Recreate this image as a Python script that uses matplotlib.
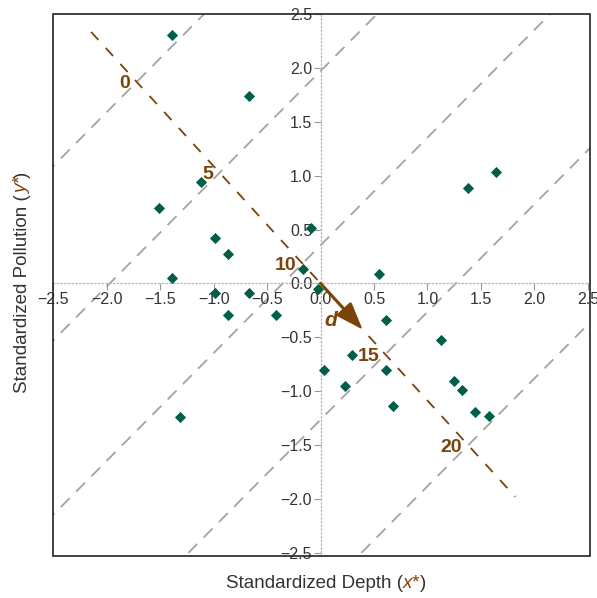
import numpy as np
import matplotlib.pyplot as plt
from matplotlib.patches import Rectangle
from matplotlib.offsetbox import TextArea, HPacker, AnchoredOffsetbox

plt.rcParams['font.family'] = ['Liberation Sans', 'DejaVu Sans']

# standardized observations
depth = [-1.386, -0.672, -1.121, -1.508, -0.990, -0.865, -1.386, -0.990, -0.672,
         -0.865, -0.416, -1.314, -0.092, -0.161, -0.021, 0.550, 1.380, 1.645,
         0.613, 1.127, 0.297, 0.033, 0.613, 0.229, 0.681, 1.252, 1.324, 1.448, 1.576]
pollution = [2.308, 1.739, 0.942, 0.700, 0.419, 0.274, 0.048, -0.091, -0.091,
             -0.292, -0.292, -1.236, 0.512, 0.132, -0.054, 0.088, 0.889, 1.032,
             -0.339, -0.524, -0.663, -0.802, -0.802, -0.951, -1.136, -0.902, -0.994,
             -1.189, -1.229]

# scale along the direction d
score_ticks = [0, 5, 10, 15, 20]
score_origin = -2.54   # position of score 0 along d
score_step = 0.229     # distance along d per score unit
d_angle = -47.4        # degrees
d_extent = (-3.17, 2.69)
arrow_len = 0.58

green = '#005e48'
brown = '#7b4308'
dark = '#333333'

fig = plt.figure(figsize=(5.97, 5.98), dpi=100)
ax = fig.add_axes([52.7 / 597, 1 - 556 / 598, (590 - 52.7) / 597, (556 - 14) / 598])

ax.set_xlim(-2.505, 2.52)
ax.set_ylim(-2.53, 2.5)

ux, uy = np.cos(np.radians(d_angle)), np.sin(np.radians(d_angle))

# gray contour lines through each scale tick (slope 1)
xs = np.array([-3.0, 3.0])
for s in score_ticks:
    t = score_origin + s * score_step
    c = t * uy - t * ux
    ax.plot(xs, xs + c, color='#a3a3a3', lw=1.3, dashes=(7, 5), zorder=1)

# brown dashed direction line
tt = np.array(d_extent)
ax.plot(tt * ux, tt * uy, color=brown, lw=1.3, dashes=(6, 6), zorder=2)

# arrow d
ax.annotate('', xy=(arrow_len * ux, arrow_len * uy), xytext=(0, 0),
            arrowprops=dict(arrowstyle='-|>,head_length=0.9,head_width=0.33',
                            color=brown, lw=2.2, shrinkA=0, shrinkB=0,
                            mutation_scale=18), zorder=4)
ax.text(0.094, -0.343, 'd', color=brown, fontsize=15, fontweight='bold',
        style='italic', ha='center', va='center', zorder=5)

for s in score_ticks:
    t = score_origin + s * score_step
    ax.annotate(str(s), xy=(t * ux, t * uy), xytext=(-4.5, 0),
                textcoords='offset points', ha='right', va='center_baseline',
                color=brown, fontsize=14, fontweight='bold', zorder=5)

ax.plot(depth, pollution, 'D', color=green, ms=5, mec=green, mew=0.6, zorder=3)

# axes through the origin
for side in ['top', 'right']:
    ax.spines[side].set_visible(False)
for side in ['left', 'bottom']:
    ax.spines[side].set_position('zero')
    ax.spines[side].set_color('#b5b5b5')
    ax.spines[side].set_linestyle((0, (1, 2)))
    ax.spines[side].set_linewidth(0.9)
ax.add_patch(Rectangle((0, 0), 1, 1, transform=ax.transAxes, fill=False,
                       ec='#222222', lw=1.2, clip_on=False, zorder=6))

ticks = np.arange(-2.5, 2.51, 0.5)
ax.set_xticks(ticks)
ax.set_yticks(ticks)
ax.set_xticklabels([f'{v:.1f}'.replace('-', '\u2212') for v in ticks])
ax.set_yticklabels([f'{v:.1f}'.replace('-', '\u2212') for v in ticks])
ax.tick_params(direction='out', length=5, width=0.8, color='#999999',
               labelcolor=dark, labelsize=11.5, pad=1)

# axis titles with coloured variable names
xparts = [('Standardized Depth (', dark, 'normal'), ('x*', brown, 'italic'), (')', dark, 'normal')]
yparts = [('Standardized Pollution (', dark, 'normal'), ('y*', brown, 'italic'), (')', dark, 'normal')]

xl = HPacker(children=[TextArea(s, textprops=dict(color=c, style=st, fontsize=13.5))
                       for s, c, st in xparts], align='baseline', pad=0, sep=0)
fig.add_artist(AnchoredOffsetbox(loc='center', child=xl, frameon=False, pad=0,
                                 bbox_to_anchor=(0.546, 0.025),
                                 bbox_transform=fig.transFigure, borderpad=0))

renderer = fig.canvas.get_renderer()
ypos = 0.343
for s, c, st in yparts:
    txt = fig.text(0.0447, ypos, s, color=c, style=st, fontsize=13.5, rotation=90,
                   rotation_mode='anchor', ha='left', va='baseline')
    ypos += txt.get_window_extent(renderer).height / fig.bbox.height

fig.savefig('out.png', dpi=100)
